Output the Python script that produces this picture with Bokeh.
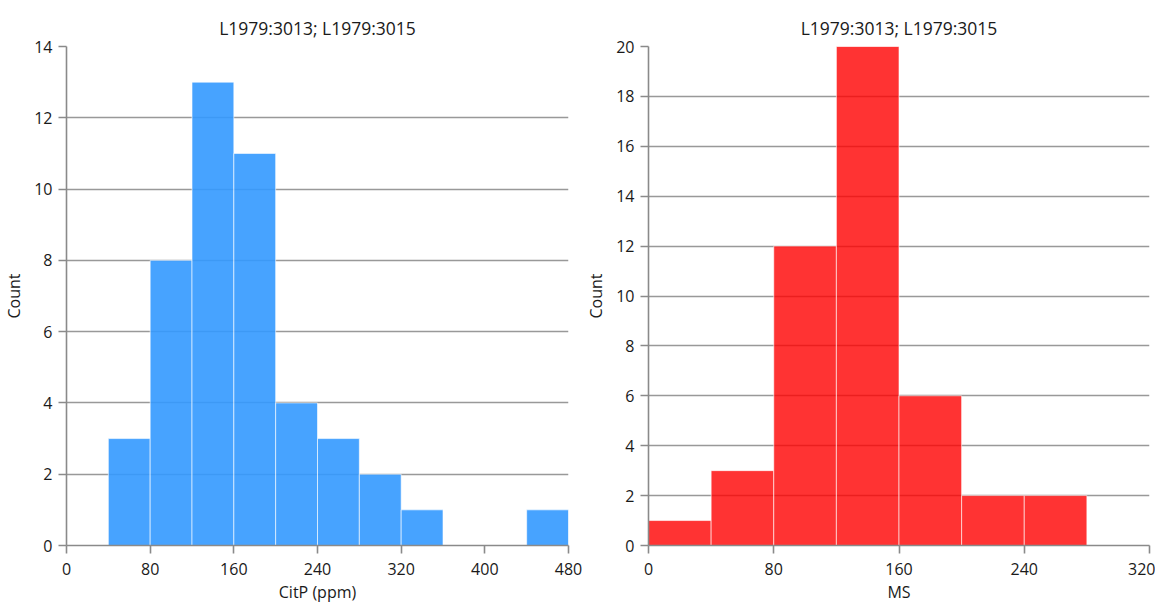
from bokeh.plotting import figure
from bokeh.layouts import row
from bokeh.models import FixedTicker, Range1d
from bokeh.embed import file_html
from bokeh.resources import INLINE

title_text = "L1979:3013; L1979:3015"

citp_edges = [40, 80, 120, 160, 200, 240, 280, 320, 360, 400, 440, 480]
citp_counts = [3, 8, 13, 11, 4, 3, 2, 1, 0, 0, 1]
citp_xticks = [0, 80, 160, 240, 320, 400, 480]
citp_yticks = [0, 2, 4, 6, 8, 10, 12, 14]

ms_edges = [0, 40, 80, 120, 160, 200, 240, 280]
ms_counts = [1, 3, 12, 20, 6, 2, 2]
ms_xticks = [0, 80, 160, 240, 320]
ms_yticks = [0, 2, 4, 6, 8, 10, 12, 14, 16, 18, 20]

FONT = "Open Sans"


def make(edges, counts, xticks, yticks, xlabel, color, alpha, fw, bl, br):
    p = figure(frame_width=fw, frame_height=499, output_backend="svg", toolbar_location=None,
               x_range=Range1d(xticks[0], xticks[-1]), y_range=Range1d(yticks[0], yticks[-1]),
               min_border_left=bl, min_border_right=br, min_border_top=46, min_border_bottom=56,
               title=title_text)
    p.outline_line_color = None
    p.title.align = "center"
    p.title.text_font = FONT
    p.title.text_font_size = "17.5px"
    p.title.text_font_style = "normal"
    p.title.text_color = "#1a1a1a"
    p.title.standoff = 14
    p.quad(left=edges[:-1], right=edges[1:], top=counts, bottom=0,
           fill_color=color, fill_alpha=alpha, line_color="white", line_alpha=0.6, line_width=1)
    p.xgrid.grid_line_color = None
    p.ygrid.grid_line_color = "#999999"
    p.ygrid.grid_line_width = 1.4
    p.xaxis.ticker = FixedTicker(ticks=xticks)
    p.yaxis.ticker = FixedTicker(ticks=yticks)
    for ax in (p.xaxis[0], p.yaxis[0]):
        ax.axis_line_color = "#8a8a8a"
        ax.axis_line_width = 1.6
        ax.major_tick_line_color = "#8a8a8a"
        ax.major_tick_line_width = 1.6
        ax.major_tick_out = 8
        ax.major_tick_in = 0
        ax.minor_tick_line_color = None
        ax.major_label_text_font = FONT
        ax.major_label_text_font_size = "16px"
        ax.major_label_text_color = "#1a1a1a"
        ax.axis_label_text_font = FONT
        ax.axis_label_text_font_size = "16px"
        ax.axis_label_text_font_style = "normal"
        ax.axis_label_text_color = "#1a1a1a"
    p.xaxis.axis_label = xlabel
    p.yaxis.axis_label = "Count"
    p.xaxis.major_label_standoff = 9
    p.yaxis.major_label_standoff = 6
    p.xaxis.axis_label_standoff = 3
    p.yaxis.axis_label_standoff = 6
    return p


p1 = make(citp_edges, citp_counts, citp_xticks, citp_yticks, "CitP (ppm)", "#3399FF", 0.9, 502, 66, 14)
p2 = make(ms_edges, ms_counts, ms_xticks, ms_yticks, "MS", "#FF0000", 0.8, 501, 63, 6)

layout = row(p1, p2)
open("out.html", "w").write(file_html(layout, INLINE))
